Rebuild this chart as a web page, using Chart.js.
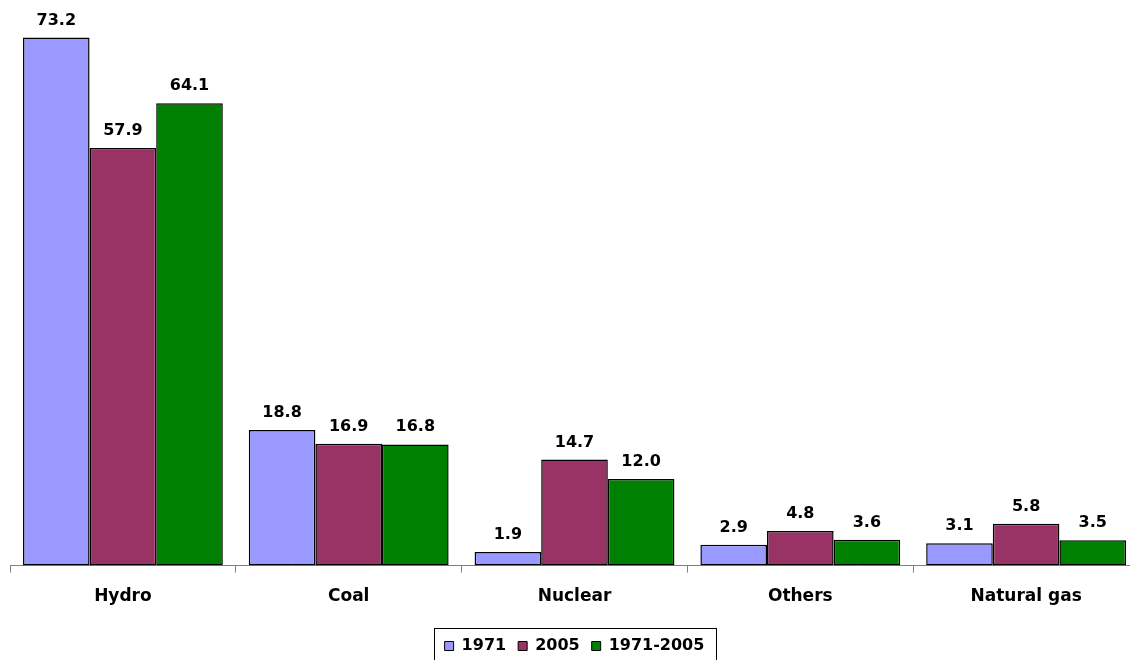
<!DOCTYPE html>
<html>
<head>
<meta charset="utf-8">
<script src="https://cdn.jsdelivr.net/npm/chart.js@4/dist/chart.umd.min.js"></script>
<style>
  html, body { margin: 0; padding: 0; background: #fff; overflow: hidden; }
  #wrap { position: relative; width: 1150px; height: 660px; overflow: hidden; }
</style>
</head>
<body>
<div id="wrap"><canvas id="c" width="1150" height="664"></canvas></div>
<script>
// Shares by energy source
const categories = ['Hydro', 'Coal', 'Nuclear', 'Others', 'Natural gas'];
const seriesNames = ['1971', '2005', '1971-2005'];
const values1971 = [73.2, 18.8, 1.9, 2.9, 3.1];
const values2005 = [57.9, 16.9, 14.7, 4.8, 5.8];
const values1971to2005 = [64.1, 16.8, 12.0, 3.6, 3.5];
const seriesColors = ['#9999FF', '#993366', '#008000'];

const FONT = 'DejaVu Sans, Verdana, sans-serif';

// Value labels above each bar
const valueLabels = {
  id: 'valueLabels',
  afterDatasetsDraw(chart) {
    const ctx = chart.ctx;
    ctx.save();
    ctx.font = 'bold 16px ' + FONT;
    ctx.fillStyle = '#000';
    ctx.textAlign = 'center';
    ctx.textBaseline = 'alphabetic';
    chart.data.datasets.forEach((ds, i) => {
      chart.getDatasetMeta(i).data.forEach((bar, j) => {
        ctx.fillText(ds.data[j].toFixed(1), bar.x, bar.y - 13);
      });
    });
    ctx.restore();
  }
};

// Frame around the legend items
const legendFrame = {
  id: 'legendFrame',
  afterDraw(chart) {
    const boxes = chart.legend && chart.legend.legendHitBoxes;
    if (!boxes || !boxes.length) return;
    let l = Infinity, r = -Infinity, t = Infinity;
    boxes.forEach(h => {
      l = Math.min(l, h.left); r = Math.max(r, h.left + h.width);
      t = Math.min(t, h.top);
    });
    const ctx = chart.ctx;
    ctx.save();
    ctx.strokeStyle = '#000';
    ctx.lineWidth = 1;
    ctx.strokeRect(Math.round(l - 11) + 0.5, Math.round(t - 10) + 0.5, Math.round(r - l + 22), 60);
    ctx.restore();
  }
};

new Chart(document.getElementById('c'), {
  type: 'bar',
  data: {
    labels: categories,
    datasets: [
      { label: seriesNames[0], data: values1971, backgroundColor: seriesColors[0] },
      { label: seriesNames[1], data: values2005, backgroundColor: seriesColors[1] },
      { label: seriesNames[2], data: values1971to2005, backgroundColor: seriesColors[2] }
    ].map(d => Object.assign(d, {
      borderColor: '#000', borderWidth: 1.5, borderSkipped: false,
      barPercentage: 1, categoryPercentage: 0.885
    }))
  },
  options: {
    responsive: false,
    animation: false,
    layout: { padding: { left: 10, right: 11, top: 0, bottom: 0 } },
    plugins: {
      tooltip: { enabled: false },
      legend: {
        position: 'bottom',
        labels: {
          boxWidth: 9, boxHeight: 9, padding: 12,
          color: '#000',
          font: { family: FONT, size: 16, weight: 'bold' },
          generateLabels(chart) {
            return chart.data.datasets.map((ds, i) => ({
              text: ds.label, fillStyle: ds.backgroundColor, strokeStyle: '#000',
              lineWidth: 1, datasetIndex: i, hidden: false
            }));
          }
        }
      }
    },
    scales: {
      y: { display: false, min: 0, max: 78.4 },
      x: {
        afterFit(scale) { scale.height += 5; },
        grid: { drawOnChartArea: false, offset: true, tickLength: 7, color: '#808080' },
        border: { color: '#808080' },
        ticks: { color: '#000', padding: 14, font: { family: FONT, size: 17, weight: 'bold' } }
      }
    }
  },
  plugins: [valueLabels, legendFrame]
});
</script>
</body>
</html>
